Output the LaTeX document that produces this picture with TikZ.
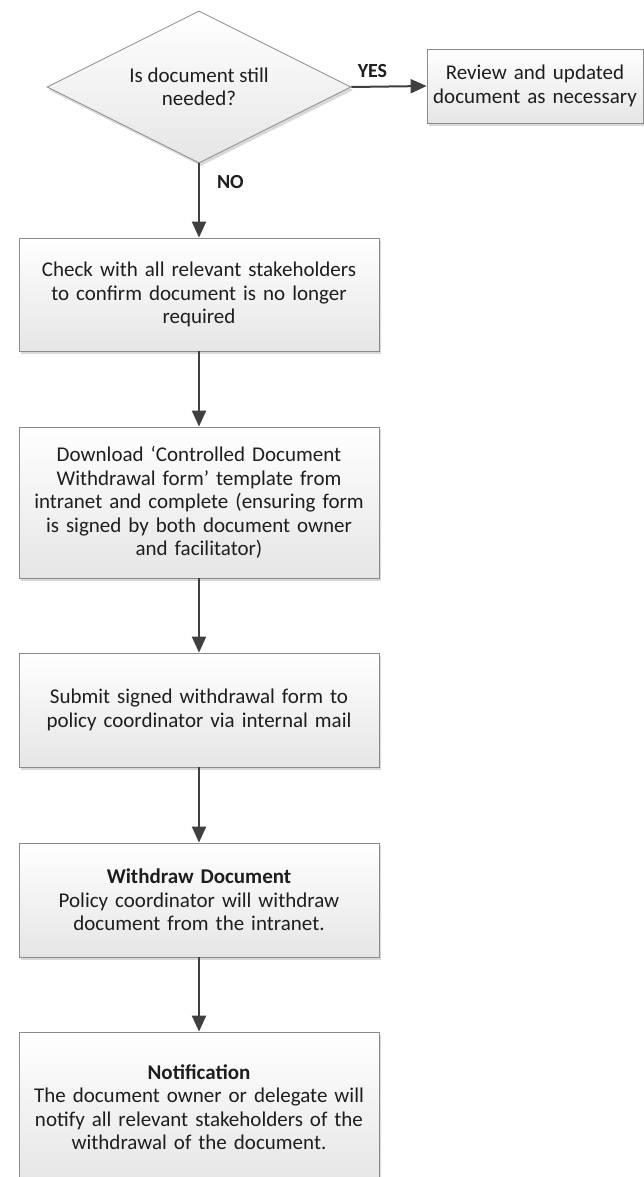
\documentclass[tikz,border=0pt]{standalone}
\usepackage{fontspec}
\setmainfont{Carlito}
\usetikzlibrary{shapes.geometric,arrows.meta,shadows}
\definecolor{bordergray}{HTML}{8A8A8A}
\definecolor{arrowgray}{HTML}{404040}
\definecolor{txt}{HTML}{1E1E1E}
\begin{document}
\begin{tikzpicture}[x=1pt,y=-1pt,
  boxstyle/.style={draw=bordergray, line width=0.8pt, top color=white, bottom color=black!10,
    align=center, text=txt, inner sep=0pt, font=\fontsize{21}{23.5}\selectfont,
    drop shadow={shadow xshift=2pt, shadow yshift=-3pt, fill=black!25, opacity=0.6}},
  mainbox/.style={boxstyle, minimum width=360pt, text width=354pt},
  decision/.style={boxstyle, shape=diamond, aspect=2, minimum width=304pt, minimum height=152pt},
  conn/.style={draw=arrowgray, line width=2pt, -{Triangle[length=16pt,width=14pt]}},
  lbl/.style={font=\fontsize{20}{22}\selectfont\bfseries, text=txt, inner sep=0pt}
]
\useasboundingbox (0,0) rectangle (644,1177);
\clip (0,0) rectangle (644,1177);
\fill[white] (0,0) rectangle (644,1177);

\node[decision] (dec) at (199,87) {Is document still\\needed?};
\node[boxstyle, minimum width=216pt, minimum height=74pt, text width=215pt] (rev) at (535,86)
  {Review and updated\\document as necessary};

\node[mainbox, minimum height=113pt] (b1) at (199,294.5)
  {Check with all relevant stakeholders\\to confirm document is no longer\\required};
\node[mainbox, minimum height=151pt] (b2) at (199,502.5)
  {Download ‘Controlled Document\\Withdrawal form’ template from\\intranet and complete (ensuring form\\is signed by both document owner\\and facilitator)};
\node[mainbox, minimum height=114pt] (b3) at (199,710)
  {Submit signed withdrawal form to\\policy coordinator via internal mail};
\node[mainbox, minimum height=114pt] (b4) at (199,900)
  {\textbf{Withdraw Document}\\Policy coordinator will withdraw\\document from the intranet.};
\node[mainbox, minimum height=150pt] (b5) at (199,1107)
  {\textbf{Notification}\\The document owner or delegate will\\notify all relevant stakeholders of the\\withdrawal of the document.};

\draw[conn] (dec.east) -- (rev.west) node[lbl, pos=0.28, above=8pt] {YES};
\draw[conn] (dec.south) -- (b1.north) node[lbl, pos=0.25, anchor=west, xshift=17pt] {NO};
\draw[conn] (b1.south) -- (b2.north);
\draw[conn] (b2.south) -- (b3.north);
\draw[conn] (b3.south) -- (b4.north);
\draw[conn] (b4.south) -- (b5.north);
\end{tikzpicture}
\end{document}
